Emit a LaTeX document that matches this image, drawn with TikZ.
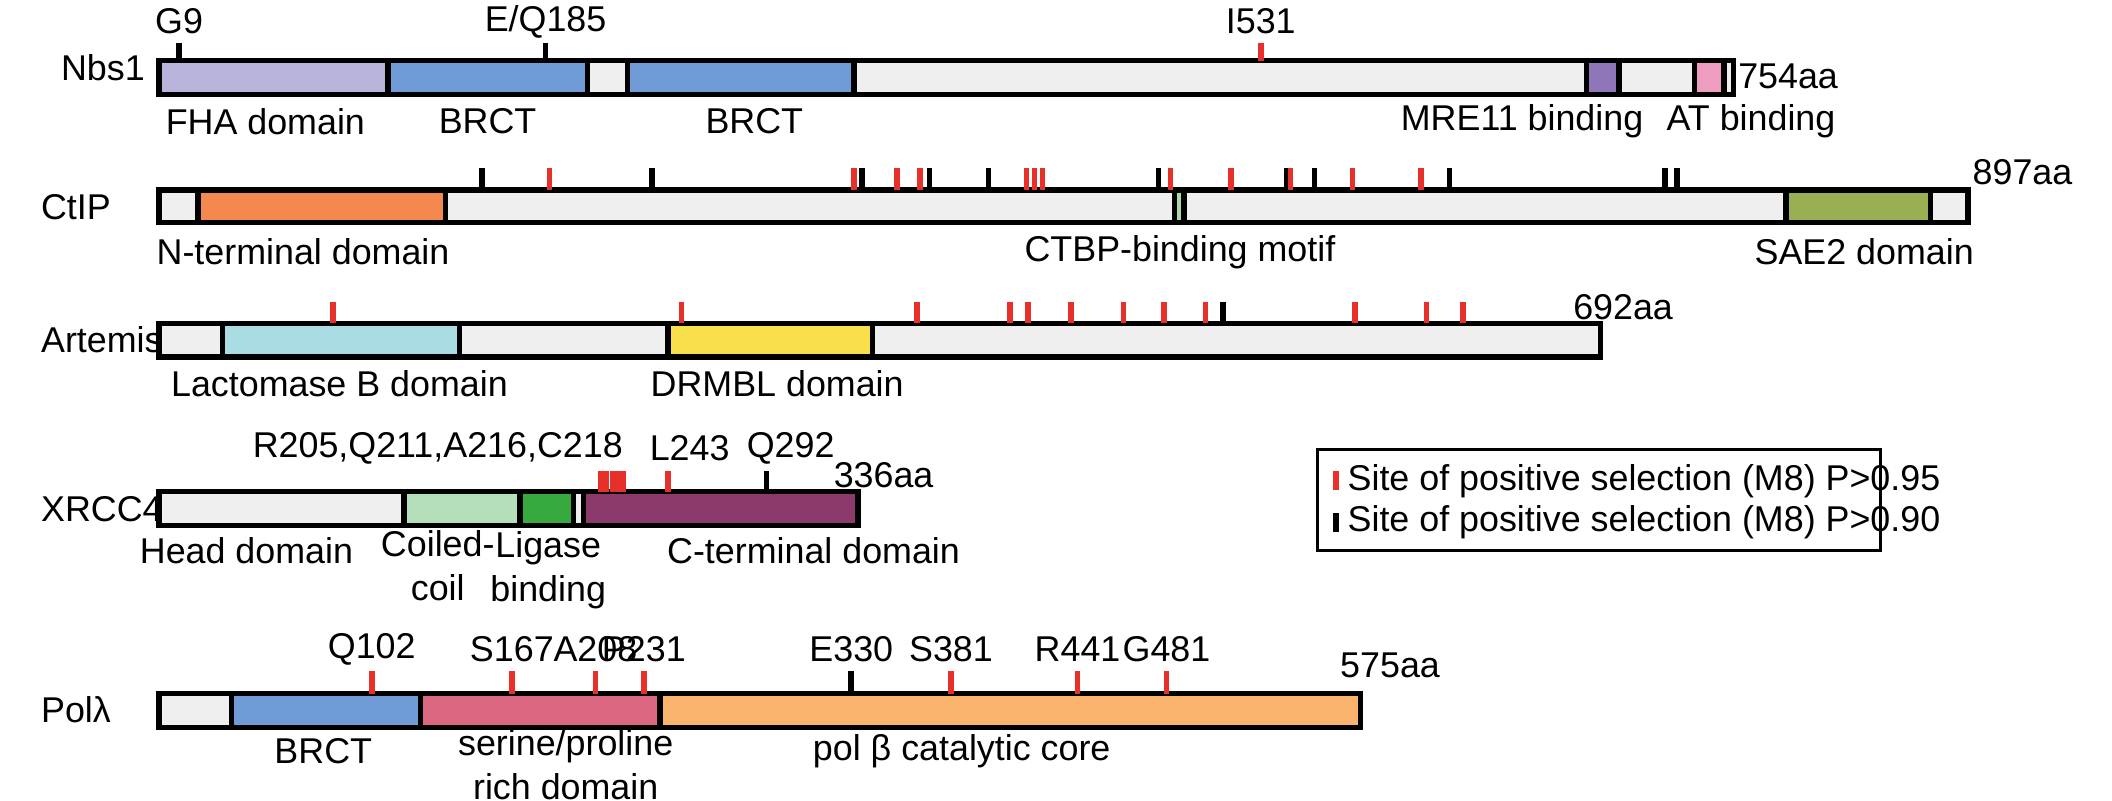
\documentclass[tikz,border=0pt]{standalone}
\usepackage{fontspec}
\setmainfont{Liberation Sans}
\definecolor{bg}{HTML}{EFEFEF}
\definecolor{fha}{HTML}{B8B4DC}
\definecolor{brct}{HTML}{6F9BD6}
\definecolor{mre}{HTML}{8E76B8}
\definecolor{at}{HTML}{EE9CC0}
\definecolor{nterm}{HTML}{F4894F}
\definecolor{ctbp}{HTML}{A9D8A9}
\definecolor{sae}{HTML}{9AAF52}
\definecolor{lac}{HTML}{AADDE3}
\definecolor{drm}{HTML}{F9E04B}
\definecolor{cc}{HTML}{B5DFBB}
\definecolor{lig}{HTML}{36A93F}
\definecolor{cterm}{HTML}{8B3A6B}
\definecolor{ser}{HTML}{DB6880}
\definecolor{polb}{HTML}{FBB46E}
\definecolor{sred}{HTML}{E8302A}
\newcommand\pbar[4]{\filldraw[fill=bg,line width=1.5pt] (#1,#3) rectangle (#2,#4);}
\newcommand\dom[5]{\filldraw[fill=#5,line width=1.5pt] (#1,#3) rectangle (#2,#4);}
\newcommand\rt[3]{\draw[sred,line width=1.6pt] (#1,#2) -- (#1,#3);}
\newcommand\bt[3]{\draw[black,line width=1.6pt] (#1,#2) -- (#1,#3);}
\begin{document}
\begin{tikzpicture}[x=0.01347cm,y=-0.01347cm,lab/.style={font=\fontsize{10.2}{12.5}\selectfont,inner sep=0pt}]
\useasboundingbox (0,0) rectangle (1568,594);
% Nbs1
\pbar{118}{1287}{45}{70}
\dom{118}{288}{45}{70}{fha}\dom{288}{436}{45}{70}{brct}\dom{466}{634}{45}{70}{brct}
\dom{1178}{1202}{45}{70}{mre}\dom{1258}{1280}{45}{70}{at}
\bt{133}{32}{45}\bt{405}{32}{45}\rt{936}{32}{45}
\node[lab,anchor=east] (n1) at (108,50) {Nbs1};
\node[lab] (g9) at (133,16) {G9};
\node[lab] (eq) at (405,16) {E/Q185};
\node[lab] (i531) at (936,16) {I531};
\node[lab,anchor=west] (a1) at (1290,57) {754aa};
\node[lab] at (197,90) {FHA domain};
\node[lab] at (362,90) {BRCT};
\node[lab] at (560,90) {BRCT};
\node[lab] at (1130,90) {MRE11 binding};
\node[lab] at (1300,90) {AT binding};
% CtIP
\pbar{118}{1461}{141}{165}
\dom{147}{331}{141}{165}{nterm}\dom{872}{879}{141}{165}{ctbp}\dom{1326}{1433}{141}{165}{sae}
\foreach \x in {358,484,640,690,734,860,955,976,1076,1236,1245}{\bt{\x}{125}{141}}
\foreach \x in {408,634,666,683,762,768,774,869,914,958,1004,1055}{\rt{\x}{125}{141}}
\node[lab,anchor=west] (n2) at (30,154) {CtIP};
\node[lab,anchor=west] (a2) at (1464,128) {897aa};
\node[lab] at (225,187) {N-terminal domain};
\node[lab] at (876,187) {CTBP-binding motif};
\node[lab] at (1384,187) {SAE2 domain};
% Artemis
\pbar{118}{1188}{240}{265}
\dom{165}{341}{240}{265}{lac}\dom{496}{648}{240}{265}{drm}
\foreach \x in {247,506,681,750,763,795,834,864,895,1006,1059,1086}{\rt{\x}{224}{240}}
\bt{908}{224}{240}
\node[lab,anchor=west] (n3) at (30,252) {Artemis};
\node[lab] (a3) at (1205,228) {692aa};
\node[lab] at (252,285) {Lactomase B domain};
\node[lab] at (577,285) {DRMBL domain};
% XRCC4
\pbar{118}{637}{365}{390}
\dom{300}{386}{365}{390}{cc}\dom{386}{426}{365}{390}{lig}\dom{433}{637}{365}{390}{cterm}
\foreach \x in {446,450,455,459,463,496}{\rt{\x}{350}{365}}
\bt{569}{350}{365}
\node[lab,anchor=west] (n4) at (30,378) {XRCC4};
\node[lab] at (325,333) {R205,Q211,A216,C218};
\node[lab] at (512,333) {L243};
\node[lab] at (587,333) {Q292};
\node[lab] (a4) at (656,353) {336aa};
\node[lab] at (183,409) {Head domain};
\node[lab,align=center] at (325,420) {Coiled-\\coil};
\node[lab,align=center] at (407,423) {Ligase\\binding};
\node[lab] at (604,409) {C-terminal domain};
% legend
\draw[line width=0.9pt] (978,334) rectangle (1396,409);
\rt{992}{350}{364}\bt{992}{381}{395}
\node[lab,anchor=west] (l1) at (1000,357) {Site of positive selection (M8) P>0.95};
\node[lab,anchor=west] (l2) at (1000,388) {Site of positive selection (M8) P>0.90};
% Pol lambda
\pbar{118}{1010}{515}{540}
\dom{172}{312}{515}{540}{brct}\dom{312}{490}{515}{540}{ser}\dom{490}{1010}{515}{540}{polb}
\foreach \x in {276,380,442,478,706,800,866}{\rt{\x}{498}{515}}
\bt{632}{498}{515}
\node[lab,anchor=west] (n5) at (30,527) {Polλ};
\foreach \x/\t in {276/Q102,380/S167,442/A208,478/P231,632/E330,706/S381,800/R441,866/G481}{\node[lab] at (\x,482) {\t};}
\node[lab] (a5) at (1032,494) {575aa};
\node[lab] at (240,558) {BRCT};
\node[lab,align=center] at (420,568) {serine/proline\\rich domain};
\node[lab] at (714,558) {pol β catalytic core};
\end{tikzpicture}
\end{document}
